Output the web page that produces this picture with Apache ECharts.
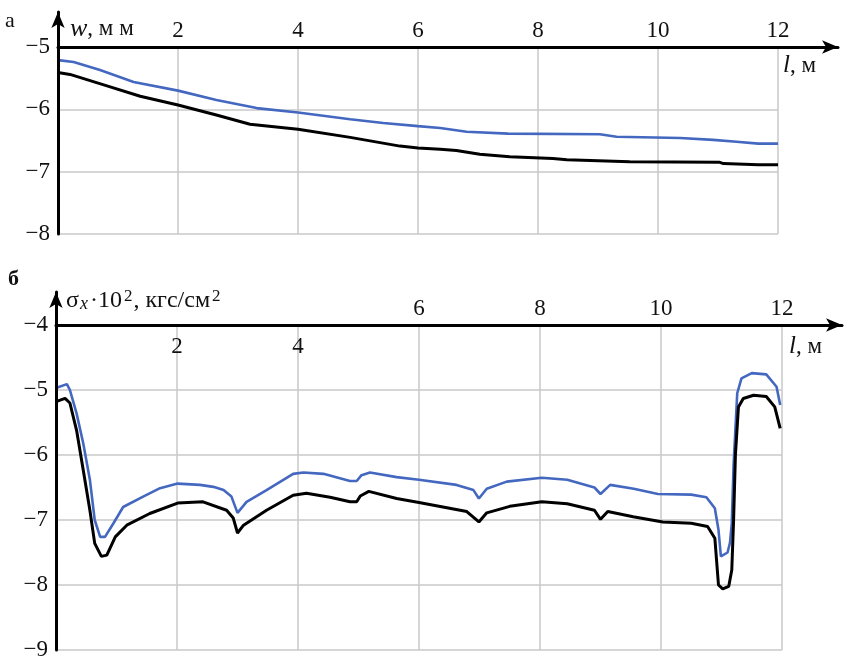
<!DOCTYPE html>
<html><head><meta charset="utf-8">
<script src="https://cdn.jsdelivr.net/npm/echarts@6/dist/echarts.min.js"></script>
<style>html,body{margin:0;padding:0;background:#fff}#c{width:859px;height:662px}</style>
</head><body><div id="c"></div>
<script>
// ---- data ----
const xTicks = [0, 2, 4, 6, 8, 10, 12];
const wYTicks = [-8, -7, -6, -5];
const sYTicks = [-9, -8, -7, -6, -5, -4];

const wBlue = [[0,-5.21],[0.26,-5.24],[0.70,-5.37],[1.26,-5.56],[2.0,-5.70],[2.64,-5.85],[3.31,-5.98],[4.0,-6.05],[4.87,-6.16],[5.42,-6.22],[6.0,-6.27],[6.37,-6.30],[6.81,-6.36],[7.5,-6.39],[9.03,-6.40],[9.31,-6.44],[10.37,-6.46],[10.92,-6.49],[11.31,-6.52],[11.67,-6.55],[12,-6.55]];
const wBlack = [[0,-5.41],[0.2,-5.44],[0.87,-5.64],[1.37,-5.79],[2.0,-5.93],[2.64,-6.09],[3.2,-6.24],[4.0,-6.32],[4.87,-6.45],[5.7,-6.59],[6.0,-6.62],[6.37,-6.64],[6.64,-6.66],[7.03,-6.72],[7.53,-6.76],[8.25,-6.79],[8.48,-6.81],[9.53,-6.84],[11.03,-6.85],[11.09,-6.87],[11.67,-6.89],[12,-6.89]];

const sBlue = [[0,-4.97],[0.18,-4.91],[0.23,-5.0],[0.34,-5.36],[0.45,-5.82],[0.56,-6.38],[0.64,-7.0],[0.73,-7.26],[0.81,-7.26],[0.95,-7.05],[1.11,-6.80],[1.44,-6.64],[1.72,-6.51],[2.01,-6.44],[2.38,-6.46],[2.6,-6.49],[2.77,-6.54],[2.9,-6.64],[3.0,-6.89],[3.15,-6.72],[3.48,-6.54],[3.92,-6.29],[4.09,-6.27],[4.42,-6.29],[4.86,-6.40],[4.97,-6.40],[5.05,-6.31],[5.19,-6.27],[5.63,-6.34],[6.0,-6.38],[6.62,-6.46],[6.9,-6.54],[6.99,-6.67],[7.12,-6.52],[7.45,-6.41],[8.03,-6.35],[8.45,-6.38],[8.9,-6.50],[9.0,-6.60],[9.16,-6.46],[9.55,-6.52],[9.95,-6.60],[10.5,-6.61],[10.75,-6.65],[10.89,-6.82],[10.95,-7.15],[10.99,-7.56],[11.1,-7.50],[11.14,-7.35],[11.17,-7.05],[11.2,-6.15],[11.26,-5.05],[11.33,-4.82],[11.5,-4.74],[11.74,-4.76],[11.91,-4.95],[11.97,-5.23]];
const sBlack = [[0,-5.18],[0.15,-5.13],[0.23,-5.2],[0.34,-5.62],[0.45,-6.23],[0.56,-6.85],[0.64,-7.36],[0.75,-7.56],[0.84,-7.54],[0.98,-7.26],[1.17,-7.08],[1.55,-6.90],[2.01,-6.74],[2.43,-6.72],[2.82,-6.85],[2.93,-6.97],[3.0,-7.2],[3.1,-7.08],[3.48,-6.85],[3.92,-6.62],[4.14,-6.59],[4.53,-6.65],[4.86,-6.72],[4.97,-6.72],[5.03,-6.63],[5.17,-6.56],[5.63,-6.67],[6.0,-6.73],[6.79,-6.87],[6.99,-7.03],[7.12,-6.89],[7.5,-6.79],[8.03,-6.72],[8.45,-6.75],[8.9,-6.85],[9.0,-6.99],[9.12,-6.87],[9.54,-6.95],[10.03,-7.03],[10.5,-7.05],[10.77,-7.10],[10.89,-7.28],[10.95,-8.0],[11.02,-8.06],[11.12,-8.02],[11.17,-7.77],[11.2,-7.0],[11.23,-6.0],[11.28,-5.26],[11.36,-5.13],[11.53,-5.08],[11.74,-5.10],[11.88,-5.26],[11.97,-5.59]];

// ---- chart ----
const FONT = "'Liberation Serif','DejaVu Serif',serif";
const TXT = '#111';
const BLUE = '#4468c0';
const GRIDC = '#c8c8c8';
const FS = 23;
const minus = v => String(v).replace('-', '\u2212');

function dataX(grid, opts) {
  return Object.assign({
    type: 'value', gridIndex: grid, min: xTicks[0], max: xTicks[xTicks.length - 1], interval: 2,
    position: 'top',
    axisLine: { show: false }, axisTick: { show: false },
    splitLine: { show: true, lineStyle: { color: GRIDC, width: 1.5 } },
    axisLabel: { fontFamily: FONT, fontSize: FS, color: TXT, margin: 5 }
  }, opts);
}
function dataY(grid, ticks) {
  return {
    type: 'value', gridIndex: grid, min: ticks[0], max: ticks[ticks.length - 1], interval: 1,
    axisLine: { show: false }, axisTick: { show: false },
    splitLine: { show: true, lineStyle: { color: GRIDC, width: 1.5 } },
    axisLabel: { fontFamily: FONT, fontSize: FS, color: TXT, margin: 8, formatter: minus }
  };
}
const arrowLine = { show: true, onZero: false, lineStyle: { color: '#000', width: 3 }, symbol: ['none', 'arrow'], symbolSize: [10, 16] };
function lineX(grid, show) {
  return { type: 'value', gridIndex: grid, min: 0, max: 1, position: 'top', show: show, z: 5,
    axisLine: arrowLine, axisTick: { show: false }, axisLabel: { show: false }, splitLine: { show: false } };
}
function lineY(grid, show) {
  return { type: 'value', gridIndex: grid, min: 0, max: 1, position: 'left', show: show, z: 5,
    axisLine: arrowLine, axisTick: { show: false }, axisLabel: { show: false }, splitLine: { show: false } };
}

const chart = echarts.init(document.getElementById('c'), null, { renderer: 'canvas' });
chart.setOption({
  backgroundColor: '#fff',
  animation: false,
  grid: [
    { left: 58, top: 47, width: 720, height: 187 },
    { left: 58, top: 47, width: 780, height: 187 },
    { left: 58, top: 12, width: 720, height: 222 },
    { left: 56, top: 325, width: 726, height: 325 },
    { left: 56, top: 325, width: 786, height: 325 },
    { left: 56, top: 292, width: 726, height: 358 }
  ],
  xAxis: [
    dataX(0, { axisLabel: { fontFamily: FONT, fontSize: FS, color: TXT, margin: 5, formatter: v => v === 0 ? '' : String(v) } }),
    lineX(1, true),
    lineX(2, false),
    dataX(3, { axisLabel: { fontFamily: FONT, fontSize: FS, color: TXT, margin: 5, formatter: v => v >= 6 ? String(v) : '' } }),
    dataX(3, { splitLine: { show: false }, axisLabel: { inside: true, fontFamily: FONT, fontSize: FS, color: TXT, margin: 10, formatter: v => (v === 2 || v === 4) ? String(v) : '' } }),
    lineX(4, true),
    lineX(5, false)
  ],
  yAxis: [
    dataY(0, wYTicks),
    lineY(1, false),
    lineY(2, true),
    dataY(3, sYTicks),
    lineY(4, false),
    lineY(5, true)
  ],
  series: [
    { type: 'line', xAxisIndex: 0, yAxisIndex: 0, data: wBlue, showSymbol: false, lineStyle: { color: BLUE, width: 2.6 }, z: 3 },
    { type: 'line', xAxisIndex: 0, yAxisIndex: 0, data: wBlack, showSymbol: false, lineStyle: { color: '#000', width: 3 }, z: 3 },
    { type: 'line', xAxisIndex: 3, yAxisIndex: 3, data: sBlue, showSymbol: false, lineStyle: { color: BLUE, width: 2.6 }, z: 3 },
    { type: 'line', xAxisIndex: 3, yAxisIndex: 3, data: sBlack, showSymbol: false, lineStyle: { color: '#000', width: 3 }, z: 3 }
  ],
  graphic: [
    { type: 'text', x: 5, y: 10, style: { text: 'а', font: "22px " + FONT, fill: TXT } },
    { type: 'text', x: 70, y: 16, style: { text: '{i|w}{n|, м м}', rich: {
        i: { fontFamily: FONT, fontSize: 26, fontStyle: 'italic', fill: TXT },
        n: { fontFamily: FONT, fontSize: 23, fill: TXT } } } },
    { type: 'text', x: 783, y: 53, style: { text: '{i|l}{n|, м}', rich: {
        i: { fontFamily: FONT, fontSize: 25, fontStyle: 'italic', fill: TXT },
        n: { fontFamily: FONT, fontSize: 23, fill: TXT } } } },
    { type: 'text', x: 8, y: 268, style: { text: 'б', font: "bold 22px " + FONT, fill: TXT } },
    { type: 'text', x: 66, y: 288, style: { text: '{n|σ}{s|x}{n|·10}{p|2}{n|, кгс/см}{p|2}', rich: {
        n: { fontFamily: FONT, fontSize: 24, fill: TXT, verticalAlign: 'bottom' },
        s: { fontFamily: FONT, fontSize: 18, fontStyle: 'italic', fill: TXT, verticalAlign: 'bottom', padding: [0, 2, 0, 1] },
        p: { fontFamily: FONT, fontSize: 17, fill: TXT, verticalAlign: 'top', padding: [0, 1, 8, 2] } } } },
    { type: 'text', x: 789, y: 334, style: { text: '{i|l}{n|, м}', rich: {
        i: { fontFamily: FONT, fontSize: 25, fontStyle: 'italic', fill: TXT },
        n: { fontFamily: FONT, fontSize: 23, fill: TXT } } } }
  ]
});
</script></body></html>
